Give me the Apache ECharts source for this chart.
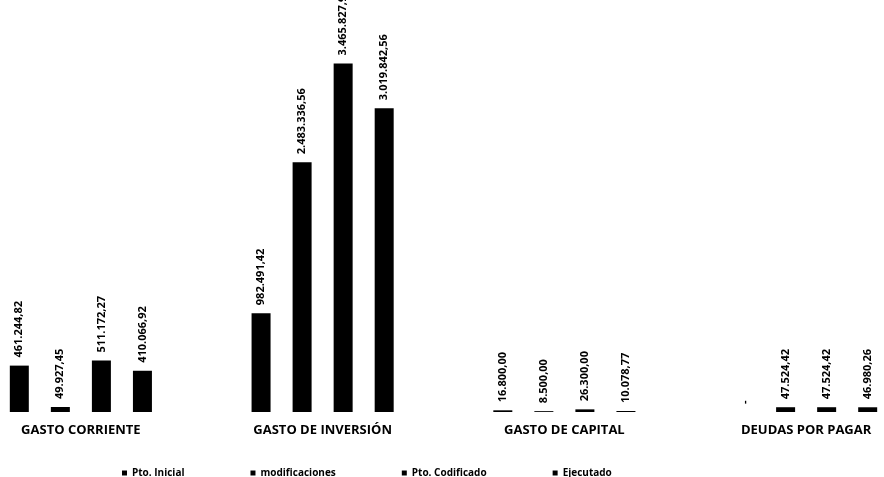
<!DOCTYPE html>
<html>
<head>
<meta charset="utf-8">
<script src="https://cdn.jsdelivr.net/npm/echarts@6/dist/echarts.min.js"></script>
<style>
  html, body {margin: 0; padding: 0; background: #fff;}
  #chart {width: 884px; height: 477px;}
</style>
</head>
<body>
<div id="chart"></div>
<script>
const categories = ["GASTO CORRIENTE", "GASTO DE INVERSIÓN", "GASTO DE CAPITAL", "DEUDAS POR PAGAR"];
const seriesNames = ["Pto. Inicial", "modificaciones", "Pto. Codificado", "Ejecutado"];

const ptoInicial = [461244.82, 982491.42, 16800.00, 0];
const modificaciones = [49927.45, 2483336.56, 8500.00, 47524.42];
const ptoCodificado = [511172.27, 3465827.98, 26300.00, 47524.42];
const ejecutado = [410066.92, 3019842.56, 10078.77, 46980.26];

const seriesValues = [ptoInicial, modificaciones, ptoCodificado, ejecutado];

// formato es-EC: 1.234.567,89 ; cero se muestra como "-"
function fmt(v) {
  if (!v) {return "-";}
  const [ent, dec] = v.toFixed(2).split(".");
  return ent.replace(/\B(?=(\d{3})+(?!\d))/g, ".") + "," + dec;
}

const chart = echarts.init(document.getElementById("chart"));

chart.setOption({
  animation: false,
  grid: {left: -40, right: -43, top: 60, bottom: 65, outerBoundsMode: "none", containLabel: false},
  legend: {
    data: seriesNames,
    left: 117,
    top: 463,
    itemWidth: 5,
    itemHeight: 5,
    itemGap: 66,
    icon: "rect",
    textStyle: {fontSize: 10, fontWeight: "bold", color: "#000", fontFamily: "Open Sans"},
  },
  xAxis: {
    type: "category",
    data: categories,
    axisLine: {show: false},
    axisTick: {show: false},
    axisLabel: {
      margin: 12,
      fontSize: 13,
      fontWeight: "bold",
      color: "#000",
      fontFamily: "Open Sans",
    },
  },
  yAxis: {
    type: "value",
    min: 0,
    max: 3500000,
    show: false,
    splitLine: {show: false},
  },
  series: seriesValues.map((vals, i) => ({
    name: seriesNames[i],
    type: "bar",
    data: vals,
    barWidth: 19,
    barGap: "116%",
    itemStyle: {color: "#000"},
    label: {
      show: true,
      position: "top",
      rotate: 90,
      align: "left",
      verticalAlign: "middle",
      distance: 8,
      fontSize: 11,
      fontWeight: "bold",
      color: "#000",
      fontFamily: "Open Sans",
      formatter: (p) => fmt(p.value),
    },
  })),
});
</script>
</body>
</html>
